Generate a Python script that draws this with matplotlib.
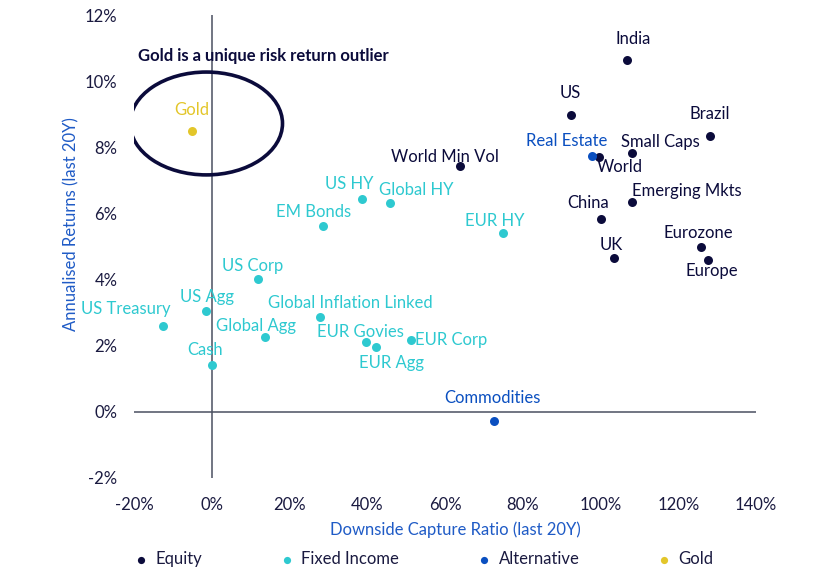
import matplotlib
matplotlib.use("Agg")
import matplotlib.pyplot as plt
from matplotlib.patches import Ellipse
from matplotlib.ticker import FuncFormatter

plt.rcParams['font.family'] = ['Lato', 'DejaVu Sans']

# data (downside capture %, annualised return %)
equity_names = ['India', 'US', 'Brazil', 'Small Caps', 'World', 'World Min Vol',
                'Emerging Mkts', 'China', 'UK', 'Eurozone', 'Europe']
equity_x = [106.7, 92.3, 128.2, 108.0, 99.5, 63.8, 108.2, 100.0, 103.6, 125.9, 127.7]
equity_y = [10.63, 8.97, 8.34, 7.82, 7.70, 7.43, 6.34, 5.83, 4.65, 4.98, 4.59]

fixed_names = ['EUR HY', 'Global HY', 'US HY', 'EM Bonds', 'US Corp', 'US Agg',
               'US Treasury', 'Global Inflation Linked', 'Global Agg', 'Cash',
               'EUR Govies', 'EUR Agg', 'EUR Corp']
fixed_x = [74.9, 45.9, 38.7, 28.5, 11.8, -1.5, -12.6, 27.9, 13.8, 0.0, 39.7, 42.3, 51.3]
fixed_y = [5.41, 6.31, 6.43, 5.62, 4.02, 3.05, 2.60, 2.87, 2.27, 1.42, 2.11, 1.96, 2.18]

alt_names = ['Real Estate', 'Commodities']
alt_x = [97.9, 72.6]
alt_y = [7.73, -0.27]

gold_names = ['Gold']
gold_x = [-5.1]
gold_y = [8.49]

groups = ['Equity', 'Fixed Income', 'Alternative', 'Gold']
colors = ['#0b0b3b', '#2ec9d0', '#0a4fc0', '#e3c62a']

# label offsets in pixels (dx, dy)
offsets = {
    'India': (7, 21), 'US': (0, 22), 'Brazil': (0, 22), 'Small Caps': (29, 11),
    'World': (21, -10), 'World Min Vol': (-15, 9), 'Emerging Mkts': (54, 11),
    'China': (-12, 16), 'UK': (-3, 13), 'Eurozone': (-3, 14), 'Europe': (4, -11),
    'EUR HY': (-8, 12), 'Global HY': (26, 13), 'US HY': (-13, 15),
    'EM Bonds': (-9, 14), 'US Corp': (-5, 13), 'US Agg': (1, 14),
    'US Treasury': (-37, 17), 'Global Inflation Linked': (30, 14),
    'Global Agg': (-9, 11), 'Cash': (-7, 15), 'EUR Govies': (-6, 10),
    'EUR Agg': (15, -16), 'EUR Corp': (40, 0), 'Real Estate': (-26, 15),
    'Commodities': (-2, 23), 'Gold': (0, 21),
}

fig = plt.figure(figsize=(8.33, 5.74), dpi=100)
ax = fig.add_axes([134 / 833, 1 - 478 / 574, (756 - 134) / 833, (478 - 15) / 574])

data = [(equity_names, equity_x, equity_y), (fixed_names, fixed_x, fixed_y),
        (alt_names, alt_x, alt_y), (gold_names, gold_x, gold_y)]

for (names, xs, ys), grp, col in zip(data, groups, colors):
    ax.scatter(xs, ys, s=42, color=col, zorder=3, label=grp, linewidths=0)
    for n, x, y in zip(names, xs, ys):
        dx, dy = offsets[n]
        ax.annotate(n, (x, y), xytext=(dx, dy), textcoords='offset pixels',
                    ha='center', va='center', fontsize=12, color=col)

ax.set_xlim(-20, 140)
ax.set_ylim(-2, 12)
ax.set_xticks(range(-20, 141, 20))
ax.set_yticks(range(-2, 13, 2))
ax.xaxis.set_major_formatter(FuncFormatter(lambda v, p: f'{v:.0f}%'))
ax.yaxis.set_major_formatter(FuncFormatter(lambda v, p: f'{v:.0f}%'))
ax.tick_params(length=0, labelsize=12, labelcolor='#1a1a40')
ax.tick_params(axis='x', pad=14)
ax.tick_params(axis='y', pad=12)
for s in ax.spines.values():
    s.set_visible(False)
ax.axhline(0, color='#4a5060', lw=1.1, zorder=1)
ax.axvline(0, color='#4a5060', lw=1.1, zorder=1)

ax.add_patch(Ellipse((-1.4, 8.72), 39.2, 3.11, fill=False, lw=2.6,
                     edgecolor='#0b0b3b', zorder=4))
ax.text(-19, 10.75, 'Gold is a unique risk return outlier', fontsize=12,
        fontweight='bold', color='#0b0b3b', va='center', ha='left')

fig.text(71 / 833, 1 - 224 / 574, 'Annualised Returns (last 20Y)', rotation=90,
         ha='center', va='center', fontsize=12, color='#1f5bc6')
fig.text(455 / 833, 1 - 530 / 574, 'Downside Capture Ratio (last 20Y)',
         ha='center', va='center', fontsize=12, color='#1f5bc6')

fig.legend(loc='center left', bbox_to_anchor=(118 / 833, 1 - 559 / 574), ncol=4,
           frameon=False, fontsize=12, markerscale=0.8, handletextpad=0.35,
           columnspacing=4.6, handlelength=1.0, labelcolor='#1a1a40')

fig.savefig('out.png', dpi=100)
